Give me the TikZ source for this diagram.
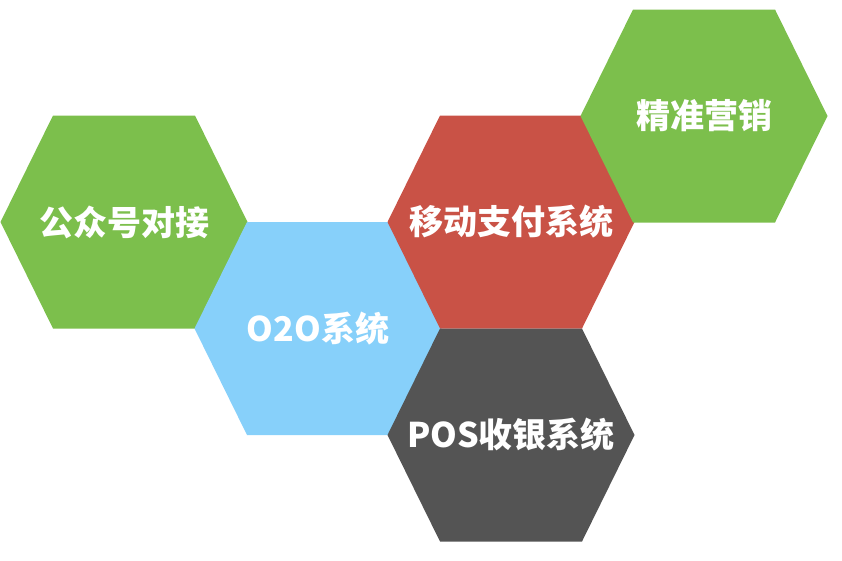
\documentclass[tikz,border=0pt]{standalone}
\usepackage{fontspec}
\newfontfamily\cjkfont{Noto Sans CJK SC}
\usepackage{tikz}
\usetikzlibrary{positioning}
\usepackage{xcolor}
\definecolor{leafgreen}{HTML}{7CBF4C}
\definecolor{skyblue}{HTML}{87D0FA}
\definecolor{brickred}{HTML}{C95246}
\definecolor{slategray}{HTML}{545454}

\begin{document}
\begin{tikzpicture}[
    x=1pt, y=-1pt,
    every node/.style={font=\cjkfont\bfseries\fontsize{34}{36}\selectfont, text=white, inner sep=0pt},
    greenCell/.style={fill=leafgreen},
    blueCell/.style={fill=skyblue},
    redCell/.style={fill=brickred},
    grayCell/.style={fill=slategray}
]
    % Area dell'immagine
    \useasboundingbox (0, 0) rectangle (842, 560);

    % Centri delle celle esagonali
    \coordinate (pubCenter) at (124, 222);
    \coordinate (ozoCenter) at (318, 328.5);
    \coordinate (payCenter) at (511, 222);
    \coordinate (posCenter) at (511, 435);
    \coordinate (mktCenter) at (704, 116);

    % Celle esagonali
    \fill[greenCell] (pubCenter) +(-123.5, 0) -- +(-71, -106.5) -- +(71, -106.5) -- +(123.5, 0) -- +(71, 106.5) -- +(-71, 106.5) -- cycle;
    \fill[blueCell] (ozoCenter) +(-123.5, 0) -- +(-71, -106.5) -- +(71, -106.5) -- +(123.5, 0) -- +(71, 106.5) -- +(-71, 106.5) -- cycle;
    \fill[redCell] (payCenter) +(-123.5, 0) -- +(-71, -106.5) -- +(71, -106.5) -- +(123.5, 0) -- +(71, 106.5) -- +(-71, 106.5) -- cycle;
    \fill[grayCell] (posCenter) +(-123.5, 0) -- +(-71, -106.5) -- +(71, -106.5) -- +(123.5, 0) -- +(71, 106.5) -- +(-71, 106.5) -- cycle;
    \fill[greenCell] (mktCenter) +(-123.5, 0) -- +(-71, -106.5) -- +(71, -106.5) -- +(123.5, 0) -- +(71, 106.5) -- +(-71, 106.5) -- cycle;

    % Etichette
    \node (pubLabel) at (pubCenter) {公众号对接};
    \node (ozoLabel) at (ozoCenter) {O2O系统};
    \node (payLabel) at (payCenter) {移动支付系统};
    \node (posLabel) at (posCenter) {POS收银系统};
    \node (mktLabel) at (mktCenter) {精准营销};
\end{tikzpicture}
\end{document}
